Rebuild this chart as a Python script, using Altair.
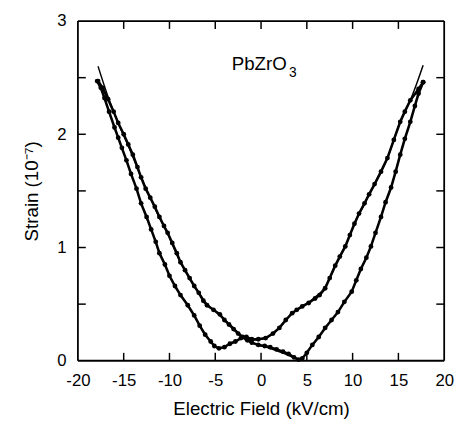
import altair as alt
import pandas as pd

# Branch A: field increasing (inner-left down -> minimum near +4 -> outer-right up)
a_x = [-17.8, -17.3, -16.7, -16.1, -15.6, -15.0, -14.5, -14.0, -13.5, -13.1,
       -12.6, -12.1, -11.6, -11.1, -10.6, -10.2, -9.7, -9.2, -8.8, -8.3,
       -7.8, -7.3, -6.8, -6.3, -5.9, -5.2, -4.5, -4.0, -3.5, -3.0,
       -2.5, -2.0, -1.5, -1.0, -0.3, 0.4, 1.0, 1.7, 2.4, 3.0,
       3.6, 4.1, 4.5, 5.0, 5.6, 6.3, 7.0, 7.7, 8.4, 9.1,
       9.9, 10.4, 10.9, 11.5, 12.0, 12.5, 13.1, 13.6, 14.2, 14.7,
       15.2, 15.7, 16.3, 16.8, 17.2, 17.7]
a_y = [2.47, 2.41, 2.31, 2.20, 2.10, 2.00, 1.91, 1.82, 1.71, 1.62,
       1.52, 1.44, 1.36, 1.27, 1.19, 1.13, 1.04, 0.95, 0.87, 0.80,
       0.73, 0.66, 0.60, 0.53, 0.49, 0.45, 0.41, 0.36, 0.32, 0.28,
       0.24, 0.21, 0.18, 0.16, 0.14, 0.13, 0.12, 0.10, 0.08, 0.06,
       0.03, 0.01, 0.02, 0.07, 0.14, 0.21, 0.29, 0.36, 0.43, 0.52,
       0.61, 0.71, 0.81, 0.91, 1.01, 1.13, 1.27, 1.40, 1.53, 1.67,
       1.82, 1.96, 2.11, 2.25, 2.36, 2.46]

# Branch B: field decreasing (inner-right down -> minimum near -5 -> outer-left up)
b_x = [17.7, 17.2, 16.3, 15.7, 15.2, 14.5, 13.8, 13.1, 12.4, 11.8,
       11.3, 10.7, 10.2, 9.7, 9.2, 8.6, 8.1, 7.5, 7.0, 6.4,
       5.9, 5.2, 4.5, 3.9, 3.4, 2.7, 2.0, 1.3, 0.5, -0.3,
       -1.0, -1.6, -2.2, -2.8, -3.4, -4.0, -4.6, -5.1, -5.5, -6.1,
       -6.7, -7.3, -8.0, -8.8, -9.4, -10.0, -10.5, -11.1, -11.5, -12.0,
       -12.5, -13.1, -13.6, -14.2, -14.7, -15.2, -15.6, -16.0, -16.6, -17.1,
       -17.5, -17.9]
b_y = [2.46, 2.40, 2.30, 2.20, 2.11, 1.95, 1.79, 1.67, 1.56, 1.47,
       1.39, 1.30, 1.21, 1.11, 1.01, 0.92, 0.84, 0.73, 0.64, 0.58,
       0.55, 0.51, 0.48, 0.45, 0.42, 0.36, 0.29, 0.24, 0.20, 0.19,
       0.19, 0.21, 0.20, 0.17, 0.15, 0.12, 0.11, 0.13, 0.17, 0.23,
       0.31, 0.40, 0.49, 0.58, 0.66, 0.75, 0.85, 0.95, 1.05, 1.16,
       1.27, 1.39, 1.52, 1.65, 1.77, 1.88, 1.97, 2.06, 2.20, 2.32,
       2.41, 2.47]

# Fitted solid curves
f1_x = [-17.8, -16.7, -15.6, -14.5, -13.1, -11.6, -10.2, -8.8, -7.3, -5.9,
        -4.5, -3.0, -2.0, -1.0, 0.5, 2.0, 3.5, 4.2]
f1_y = [2.60, 2.33, 2.10, 1.90, 1.62, 1.35, 1.12, 0.87, 0.66, 0.50,
        0.40, 0.29, 0.21, 0.16, 0.12, 0.08, 0.03, 0.0]
f2_x = [17.7, 16.5, 15.2, 13.8, 12.4, 11.3, 10.2, 9.2, 8.1, 7.0,
        5.9, 4.5, 3.4, 2.0, 0.5, -1.0, -2.0]
f2_y = [2.61, 2.34, 2.11, 1.79, 1.56, 1.39, 1.21, 1.01, 0.84, 0.65,
        0.56, 0.48, 0.42, 0.29, 0.20, 0.18, 0.20]

x_labels = [-20, -15, -10, -5, 0, 5, 10, 15, 20]
y_labels = [0, 1, 2, 3]
x_ticks = [-15, -10, -5, 0, 5, 10, 15]
y_ticks = [0.5, 1, 1.5, 2, 2.5]

ann_text = ["PbZrO", "3"]
ann_x = [-3.2, 3.05]
ann_y = [2.565, 2.505]
ann_size = [19, 14]

FONT = "Liberation Sans"
W, H = 372, 345

dots = pd.DataFrame({
    "x": a_x + b_x,
    "y": a_y + b_y,
    "branch": ["A"] * len(a_x) + ["B"] * len(b_x),
    "o": list(range(len(a_x))) + list(range(len(b_x))),
})
fits = pd.DataFrame({
    "x": f1_x + f2_x,
    "y": f1_y + f2_y,
    "curve": ["f1"] * len(f1_x) + ["f2"] * len(f2_x),
    "o": list(range(len(f1_x))) + list(range(len(f2_x))),
})
xt = pd.DataFrame({"v": x_ticks})
yt = pd.DataFrame({"v": y_ticks})
ann = pd.DataFrame({"t": ann_text, "x": ann_x, "y": ann_y, "s": ann_size})

xs = alt.Scale(domain=[-20, 20], nice=False, zero=False)
ys = alt.Scale(domain=[0, 3], nice=False, zero=False)

x_axis = alt.Axis(values=x_labels, title="Electric Field (kV/cm)", ticks=False,
                  domain=False, grid=False, labelFontSize=17, labelFont=FONT,
                  labelColor="black", labelPadding=12, titleFontSize=19,
                  titleFont=FONT, titleFontWeight="normal", titleColor="black",
                  titlePadding=12, labelFlush=False, labelOverlap=False,
                  labelExpr="'' + datum.value")
y_axis = alt.Axis(values=y_labels, title="Strain (10⁻⁷)", ticks=False,
                  domain=False, grid=False, labelFontSize=17, labelFont=FONT,
                  labelColor="black", labelPadding=12, titleFontSize=19,
                  titleFont=FONT, titleFontWeight="normal", titleColor="black",
                  titlePadding=16, labelFlush=False, labelOverlap=False,
                  labelExpr="'' + datum.value")


def X(f):
    return alt.X(f, scale=xs, axis=x_axis)


def Y(f):
    return alt.Y(f, scale=ys, axis=y_axis)


band = alt.Chart(dots).mark_line(color="black", strokeWidth=2.6).encode(
    x=X("x:Q"), y=Y("y:Q"), detail="branch:N", order="o:Q")
pts = alt.Chart(dots).mark_circle(color="black", opacity=1, size=24).encode(
    x=X("x:Q"), y=Y("y:Q"))
fit = alt.Chart(fits).mark_line(color="black", strokeWidth=1.5,
                                interpolate="monotone").encode(
    x=X("x:Q"), y=Y("y:Q"), detail="curve:N", order="o:Q")

tick_b = alt.Chart(xt).mark_rule(color="black", strokeWidth=1.5).encode(
    x=X("v:Q"), y=alt.value(H), y2=alt.value(H - 8))
tick_t = alt.Chart(xt).mark_rule(color="black", strokeWidth=1.5).encode(
    x=X("v:Q"), y=alt.value(0), y2=alt.value(8))
tick_l = alt.Chart(yt).mark_rule(color="black", strokeWidth=1.5).encode(
    y=Y("v:Q"), x=alt.value(0), x2=alt.value(8))
tick_r = alt.Chart(yt).mark_rule(color="black", strokeWidth=1.5).encode(
    y=Y("v:Q"), x=alt.value(W), x2=alt.value(W - 8))

frame_style = dict(color="black", strokeWidth=1.8)
fr_top = alt.Chart().mark_rule(**frame_style).encode(
    x=alt.value(0), x2=alt.value(W), y=alt.value(0))
fr_bot = alt.Chart().mark_rule(**frame_style).encode(
    x=alt.value(0), x2=alt.value(W), y=alt.value(H))
fr_left = alt.Chart().mark_rule(**frame_style).encode(
    y=alt.value(0), y2=alt.value(H), x=alt.value(0))
fr_right = alt.Chart().mark_rule(**frame_style).encode(
    y=alt.value(0), y2=alt.value(H), x=alt.value(W))

label = alt.Chart(ann).mark_text(color="black", font=FONT, align="left",
                                 baseline="alphabetic").encode(
    x=X("x:Q"), y=Y("y:Q"), text="t:N",
    size=alt.Size("s:Q", scale=None, legend=None))

chart = alt.layer(band, pts, fit, tick_b, tick_t, tick_l, tick_r,
                  fr_top, fr_bot, fr_left, fr_right, label).properties(
    width=W, height=H,
    autosize=alt.AutoSizeParams(type="none"),
    padding={"left": 71, "top": 10, "right": 12, "bottom": 62},
    background="white",
).configure_view(stroke=None)

chart.save("out.html", embed_options={"renderer": "svg", "actions": False})
